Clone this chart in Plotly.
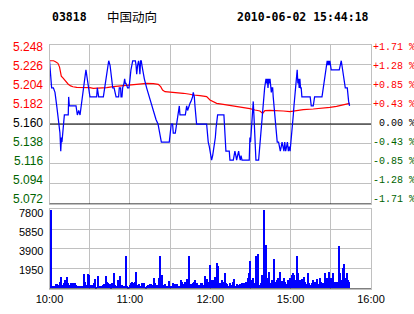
import plotly.graph_objects as go

W, H = 414, 314

# ---------------- data ----------------
code = "03818"
name = "中国动向"
stamp = "2010-06-02 15:44:18"
prev_close = 5.160

# minutes since 10:00 (trading minutes) and last price
price_t = [0, 0.6, 1.6, 2.9, 4.1, 5.4, 6.1, 7.1, 7.8, 8.4, 8.9, 9.3, 9.8, 10.3, 11.1, 14.0, 14.3, 14.8,
           19.8, 20.8, 21.8, 22.8, 24.3, 25.3, 26.3, 27.2, 27.7, 28.2, 29.2, 30.2, 35.2, 35.7, 36.7,
           40.2, 41.2, 42.2, 43.2, 44.2, 45.2, 46.2, 47.2, 48.2, 49.2, 49.7, 51.6, 52.1, 53.1, 53.4,
           54.1, 54.6, 55.6, 56.1, 56.6, 57.1, 58.3, 59.3, 60.1, 60.8, 62.1, 64.1, 64.6, 65.1, 65.8,
           66.5, 67.0, 67.5, 68.0, 68.5, 69.0, 69.5, 70.8, 72.5, 74.5, 76.5, 78.2, 79.5, 81.0, 82.0,
           83.5, 89.4, 89.9, 90.9, 91.9, 92.4, 93.9, 94.9, 95.6, 96.9, 97.4, 101.4, 101.9, 102.4,
           103.1, 103.9, 104.9, 105.6, 106.8, 107.3, 108.1, 108.6, 109.3, 109.8, 117.3, 117.8,
           118.5, 119.3, 120.3, 121.0, 121.8, 122.3, 123.0, 123.8, 124.3, 124.8, 125.5, 130.2,
           130.7, 131.2, 131.7, 134.2, 134.7, 137.2, 137.7, 138.4, 139.1, 139.7, 140.4, 141.2,
           141.7, 142.4, 143.0, 143.7, 149.1, 149.6, 150.1, 150.6, 151.1, 151.6, 152.1, 152.6,
           153.1, 153.6, 154.1, 156.1, 156.6, 157.6, 158.8, 159.6, 160.6, 161.6, 162.1, 162.6,
           163.1, 163.6, 164.1, 164.6, 165.1, 165.6, 166.1, 166.6, 167.0, 167.5, 168.0, 168.5,
           169.0, 169.5, 170.0, 171.0, 171.6, 172.3, 173.0, 173.6, 174.3, 175.0, 175.6, 176.3,
           177.0, 177.6, 178.3, 179.0, 179.6, 180.3, 181.0, 181.6, 182.0, 182.5, 183.0, 183.5,
           184.0, 184.9, 185.4, 185.9, 186.4, 186.9, 187.4, 187.9, 188.4, 194.6, 195.4, 196.9,
           197.9, 203.4, 203.9, 204.4, 204.9, 205.4, 206.3, 206.8, 207.3, 207.8, 208.3, 208.8,
           209.3, 209.8, 210.3, 216.3, 216.8, 217.3, 217.8, 218.3, 218.8, 219.3, 219.8, 220.3,
           220.8, 222.3, 222.8, 223.3, 224.0]
price_v = [5.23, 5.215, 5.20, 5.20, 5.195, 5.18, 5.17, 5.16, 5.15, 5.13, 5.145, 5.14, 5.15, 5.16, 5.17, 5.17, 5.19, 5.18,
           5.18, 5.17, 5.175, 5.17, 5.185, 5.195, 5.21, 5.22, 5.215, 5.21, 5.20, 5.19, 5.19, 5.20, 5.19,
           5.19, 5.20, 5.21, 5.22, 5.23, 5.225, 5.21, 5.20, 5.20, 5.195, 5.19, 5.19, 5.20, 5.20, 5.19,
           5.19, 5.20, 5.205, 5.21, 5.205, 5.205, 5.20, 5.20, 5.21, 5.22, 5.23, 5.23, 5.225, 5.215, 5.225,
           5.23, 5.225, 5.215, 5.23, 5.23, 5.225, 5.22, 5.21, 5.20, 5.19, 5.18, 5.17, 5.165, 5.16, 5.15,
           5.14, 5.14, 5.15, 5.16, 5.16, 5.15, 5.15, 5.16, 5.17, 5.18, 5.17, 5.17, 5.175, 5.18,
           5.175, 5.18, 5.183, 5.185, 5.19, 5.195, 5.19, 5.18, 5.17, 5.16, 5.16, 5.15,
           5.14, 5.135, 5.125, 5.12, 5.125, 5.13, 5.135, 5.145, 5.155, 5.165, 5.17, 5.17,
           5.16, 5.15, 5.13, 5.13, 5.12, 5.12, 5.125, 5.13, 5.125, 5.12, 5.125, 5.13,
           5.125, 5.12, 5.125, 5.12, 5.12, 5.145, 5.14, 5.155, 5.16, 5.175, 5.185, 5.17,
           5.145, 5.135, 5.12, 5.12, 5.13, 5.15, 5.17, 5.185, 5.20, 5.21, 5.205, 5.21,
           5.20, 5.21, 5.205, 5.21, 5.20, 5.195, 5.20, 5.20, 5.19, 5.18, 5.175, 5.165,
           5.155, 5.145, 5.14, 5.14, 5.135, 5.13, 5.135, 5.14, 5.135, 5.13, 5.14, 5.13,
           5.135, 5.14, 5.13, 5.135, 5.13, 5.14, 5.15, 5.165, 5.17, 5.18, 5.19, 5.20,
           5.21, 5.22, 5.205, 5.21, 5.20, 5.21, 5.20, 5.20, 5.19, 5.19, 5.18, 5.18,
           5.19, 5.19, 5.195, 5.20, 5.21, 5.215, 5.22, 5.225, 5.23, 5.225, 5.23, 5.225,
           5.23, 5.225, 5.22, 5.22, 5.225, 5.23, 5.23, 5.225, 5.22, 5.215, 5.21, 5.205,
           5.20, 5.20, 5.19, 5.185, 5.18]

# average price line
avg_t = [0, 3, 4.5, 6.3, 7.5, 8.0, 8.8, 10, 11.3, 12.3, 14, 15.8, 17.5, 20.3, 25, 30.2, 32.7, 37.7,
         42.7, 47.6, 52.6, 57.6, 62.6, 67.5, 72.5, 77.5, 81.2, 83, 84.4, 86.2, 89.9, 94.9, 99.9,
         104.8, 107.3, 112.3, 117.3, 119.8, 122.3, 124.8, 129.7, 134.7, 139.7, 144.7, 149.6,
         153.4, 157.1, 159.1, 160.8, 164.6, 169.5, 174.5, 179.5, 184.5, 189.4, 196.9, 204.4,
         209.3, 214.3, 219.3, 224.0]
avg_v = [5.2300, 5.2300, 5.2290, 5.2272, 5.2230, 5.2180, 5.2130, 5.2110, 5.2085, 5.2060, 5.2040,
         5.2022, 5.2012, 5.2006, 5.2006, 5.2002, 5.1995, 5.1998, 5.2002, 5.2013, 5.2021, 5.2028,
         5.2039, 5.2046, 5.2050, 5.2046, 5.2039, 5.2013, 5.1976, 5.1958, 5.1954, 5.1951, 5.1940,
         5.1929, 5.1921, 5.1914, 5.1903, 5.1866, 5.1844, 5.1829, 5.1818, 5.1807, 5.1796, 5.1781,
         5.1770, 5.1755, 5.1744, 5.1718, 5.1748, 5.1751, 5.1751, 5.1744, 5.1737, 5.1748, 5.1759,
         5.1766, 5.1774, 5.1785, 5.1796, 5.1810, 5.1829]

# per-minute volume
vol = [7700, 230, 230, 230, 430, 430, 330, 660, 1150, 330,
       490, 820, 1085, 560, 330, 560, 430, 490, 490, 330,
       230, 230, 230, 230, 230, 1415, 660, 330, 1415, 1316,
       330, 330, 490, 885, 160, 1217, 230, 230, 230, 326,
       424, 1217, 655, 556, 424, 160, 556, 1546, 326, 227,
       820, 326, 1217, 326, 227, 227, 3126, 227, 160, 326,
       490, 655, 490, 655, 1645, 326, 424, 227, 490, 556,
       490, 160, 227, 326, 424, 424, 326, 984, 490, 326,
       326, 984, 3192, 1316, 326, 424, 227, 227, 754, 227,
       227, 490, 227, 424, 424, 227, 227, 820, 655, 424,
       655, 326, 885, 3192, 326, 424, 490, 655, 820, 490,
       227, 326,
       490, 490, 326, 1217, 490, 885, 655, 2300, 820, 820,
       490, 1150, 2530, 2200, 490, 556, 820, 655, 1546, 490,
       424, 227, 490, 326, 655, 885, 227, 424, 326, 424,
       326, 490, 490, 556, 655, 984, 1480, 2650, 820, 1050,
       490, 3126, 390, 3390, 326, 490, 1316, 7700, 1546, 4300,
       984, 1645, 490, 820, 655, 2830, 655, 820, 984, 1645,
       490, 754, 984, 655, 424, 820, 490, 984, 1316, 1480,
       1316, 820, 3190, 1480, 820, 490, 885, 1150, 655, 424,
       1546, 490, 326, 490, 820, 655, 490, 885, 424, 984,
       655, 490, 424, 1546, 984, 227, 1645, 984, 490, 1546,
       655, 326, 655, 4200, 1480, 820, 1975, 2400, 984, 1546,
       820, 655]

price_ticks = [5.072, 5.094, 5.116, 5.138, 5.160, 5.182, 5.204, 5.226, 5.248]
pct_ticks = ["-1.71 %", "-1.28 %", "-0.85 %", "-0.43 %", "\u00a00.00 %",
             "+0.43 %", "+0.85 %", "+1.28 %", "+1.71 %"]
vol_ticks = [1950, 3900, 5850, 7800]
time_vals = [0, 30, 60, 90, 120, 150, 180, 210, 240]
time_text = ["10:00", "", "11:00", "", "12:00", "", "15:00", "", "16:00"]

# ---------------- styling ----------------
RED, GREEN, BLACK = "#FF0000", "#006400", "#000000"
GRID = "#C0C0C0"


def col(p):
    if p > prev_close + 1e-9:
        return RED
    if p < prev_close - 1e-9:
        return GREEN
    return BLACK


x0, x1 = 49.5 / W, 371 / W
main_dom = [1 - 203.5 / H, 1 - 44.5 / H]
vol_dom = [1 - 288.5 / H, 1 - 209.3 / H]

fig = go.Figure()
fig.add_trace(go.Scatter(x=avg_t, y=avg_v, mode="lines", xaxis="x", yaxis="y",
                         line=dict(color="#FF0000", width=1.2), hoverinfo="skip"))
fig.add_trace(go.Scatter(x=price_t, y=price_v, mode="lines", xaxis="x", yaxis="y",
                         line=dict(color="#0000FF", width=1.25), hoverinfo="skip"))
fig.add_trace(go.Bar(x=[i + 0.5 for i in range(len(vol))], y=vol, xaxis="x2", yaxis="y2",
                     width=0.8, marker=dict(color="#0000FF", line=dict(width=0)), hoverinfo="skip"))

common = dict(automargin=False, zeroline=False, ticks="", gridcolor=GRID, gridwidth=1,
              showline=True, mirror=True, linecolor=GRID, linewidth=1, showgrid=True)
fig.update_layout(
    width=W, height=H, margin=dict(l=0, r=0, t=0, b=0, pad=0, autoexpand=False),
    paper_bgcolor="white", plot_bgcolor="white", showlegend=False,
    xaxis=dict(domain=[x0, x1], anchor="y", range=[0, 240], tickvals=time_vals,
               showticklabels=False, **common),
    yaxis=dict(domain=main_dom, anchor="x", range=[5.072, 5.248], tickvals=price_ticks,
               showticklabels=False, **common),
    xaxis2=dict(domain=[x0, x1], anchor="y2", range=[0, 240], tickvals=time_vals,
                ticktext=time_text,
                tickfont=dict(family="Liberation Sans, Arial, sans-serif", size=11, color="black"),
                **common),
    yaxis2=dict(domain=vol_dom, anchor="x2", range=[0, 7800], tickvals=vol_ticks,
                showticklabels=False, **common),
    bargap=0,
)

fig.update_layout(shapes=[
    dict(type="line", xref="x", yref="y", x0=0, x1=240, y0=prev_close, y1=prev_close,
         line=dict(color="black", width=1.2), layer="between"),
    dict(type="line", xref="x", yref="y", x0=0, x1=240, y0=5.072, y1=5.072,
         line=dict(color="black", width=1.2), layer="above"),
    dict(type="line", xref="x2", yref="y2", x0=0, x1=240, y0=0, y1=0,
         line=dict(color="black", width=1.2), layer="above"),
])

annots = []
hdr = dict(family="DejaVu Sans Mono, monospace", size=11.5, color="black")
annots.append(dict(text="<b>%s</b>" % code, xref="paper", yref="paper", x=50 / W, y=1 - 16.5 / H,
                   xanchor="left", yanchor="middle", showarrow=False, font=hdr))
annots.append(dict(text=name, xref="paper", yref="paper", x=105 / W, y=1 - 16.5 / H,
                   xanchor="left", yanchor="middle", showarrow=False,
                   font=dict(family="Noto Sans CJK SC", size=12.5, color="black")))
annots.append(dict(text="<b>%s</b>" % stamp, xref="paper", yref="paper", x=371 / W, y=1 - 16.5 / H,
                   xanchor="right", yanchor="middle", showarrow=False, font=hdr))

# price-axis labels (left) and percent labels (right), placed on the price scale
n = len(price_ticks)
for k, (p, t) in enumerate(zip(price_ticks, pct_ticks)):
    kt = n - 1 - k  # index from top
    shift = -(2.5 - 0.815 * kt)
    c = col(p)
    annots.append(dict(text="%.3f" % p, xref="paper", yref="y", x=44.8 / W, y=p, yshift=shift,
                       xanchor="right", yanchor="middle", showarrow=False,
                       font=dict(family="Liberation Sans, Arial, sans-serif", size=12, color=c)))
    annots.append(dict(text=t, xref="paper", yref="y", x=371.2 / W, y=p, yshift=shift,
                       xanchor="left", yanchor="middle", showarrow=False,
                       font=dict(family="Liberation Mono, Courier New, monospace", size=10, color=c)))

vshift = {1950: -1.5, 3900: -2.2, 5850: -3.0, 7800: -3.7}
for v in vol_ticks:
    annots.append(dict(text=str(v), xref="paper", yref="y2", x=44.8 / W, y=v, yshift=vshift[v],
                       xanchor="right", yanchor="middle", showarrow=False,
                       font=dict(family="Liberation Sans, Arial, sans-serif", size=11, color="black")))

fig.update_layout(annotations=annots)
fig.write_html("out.html")
